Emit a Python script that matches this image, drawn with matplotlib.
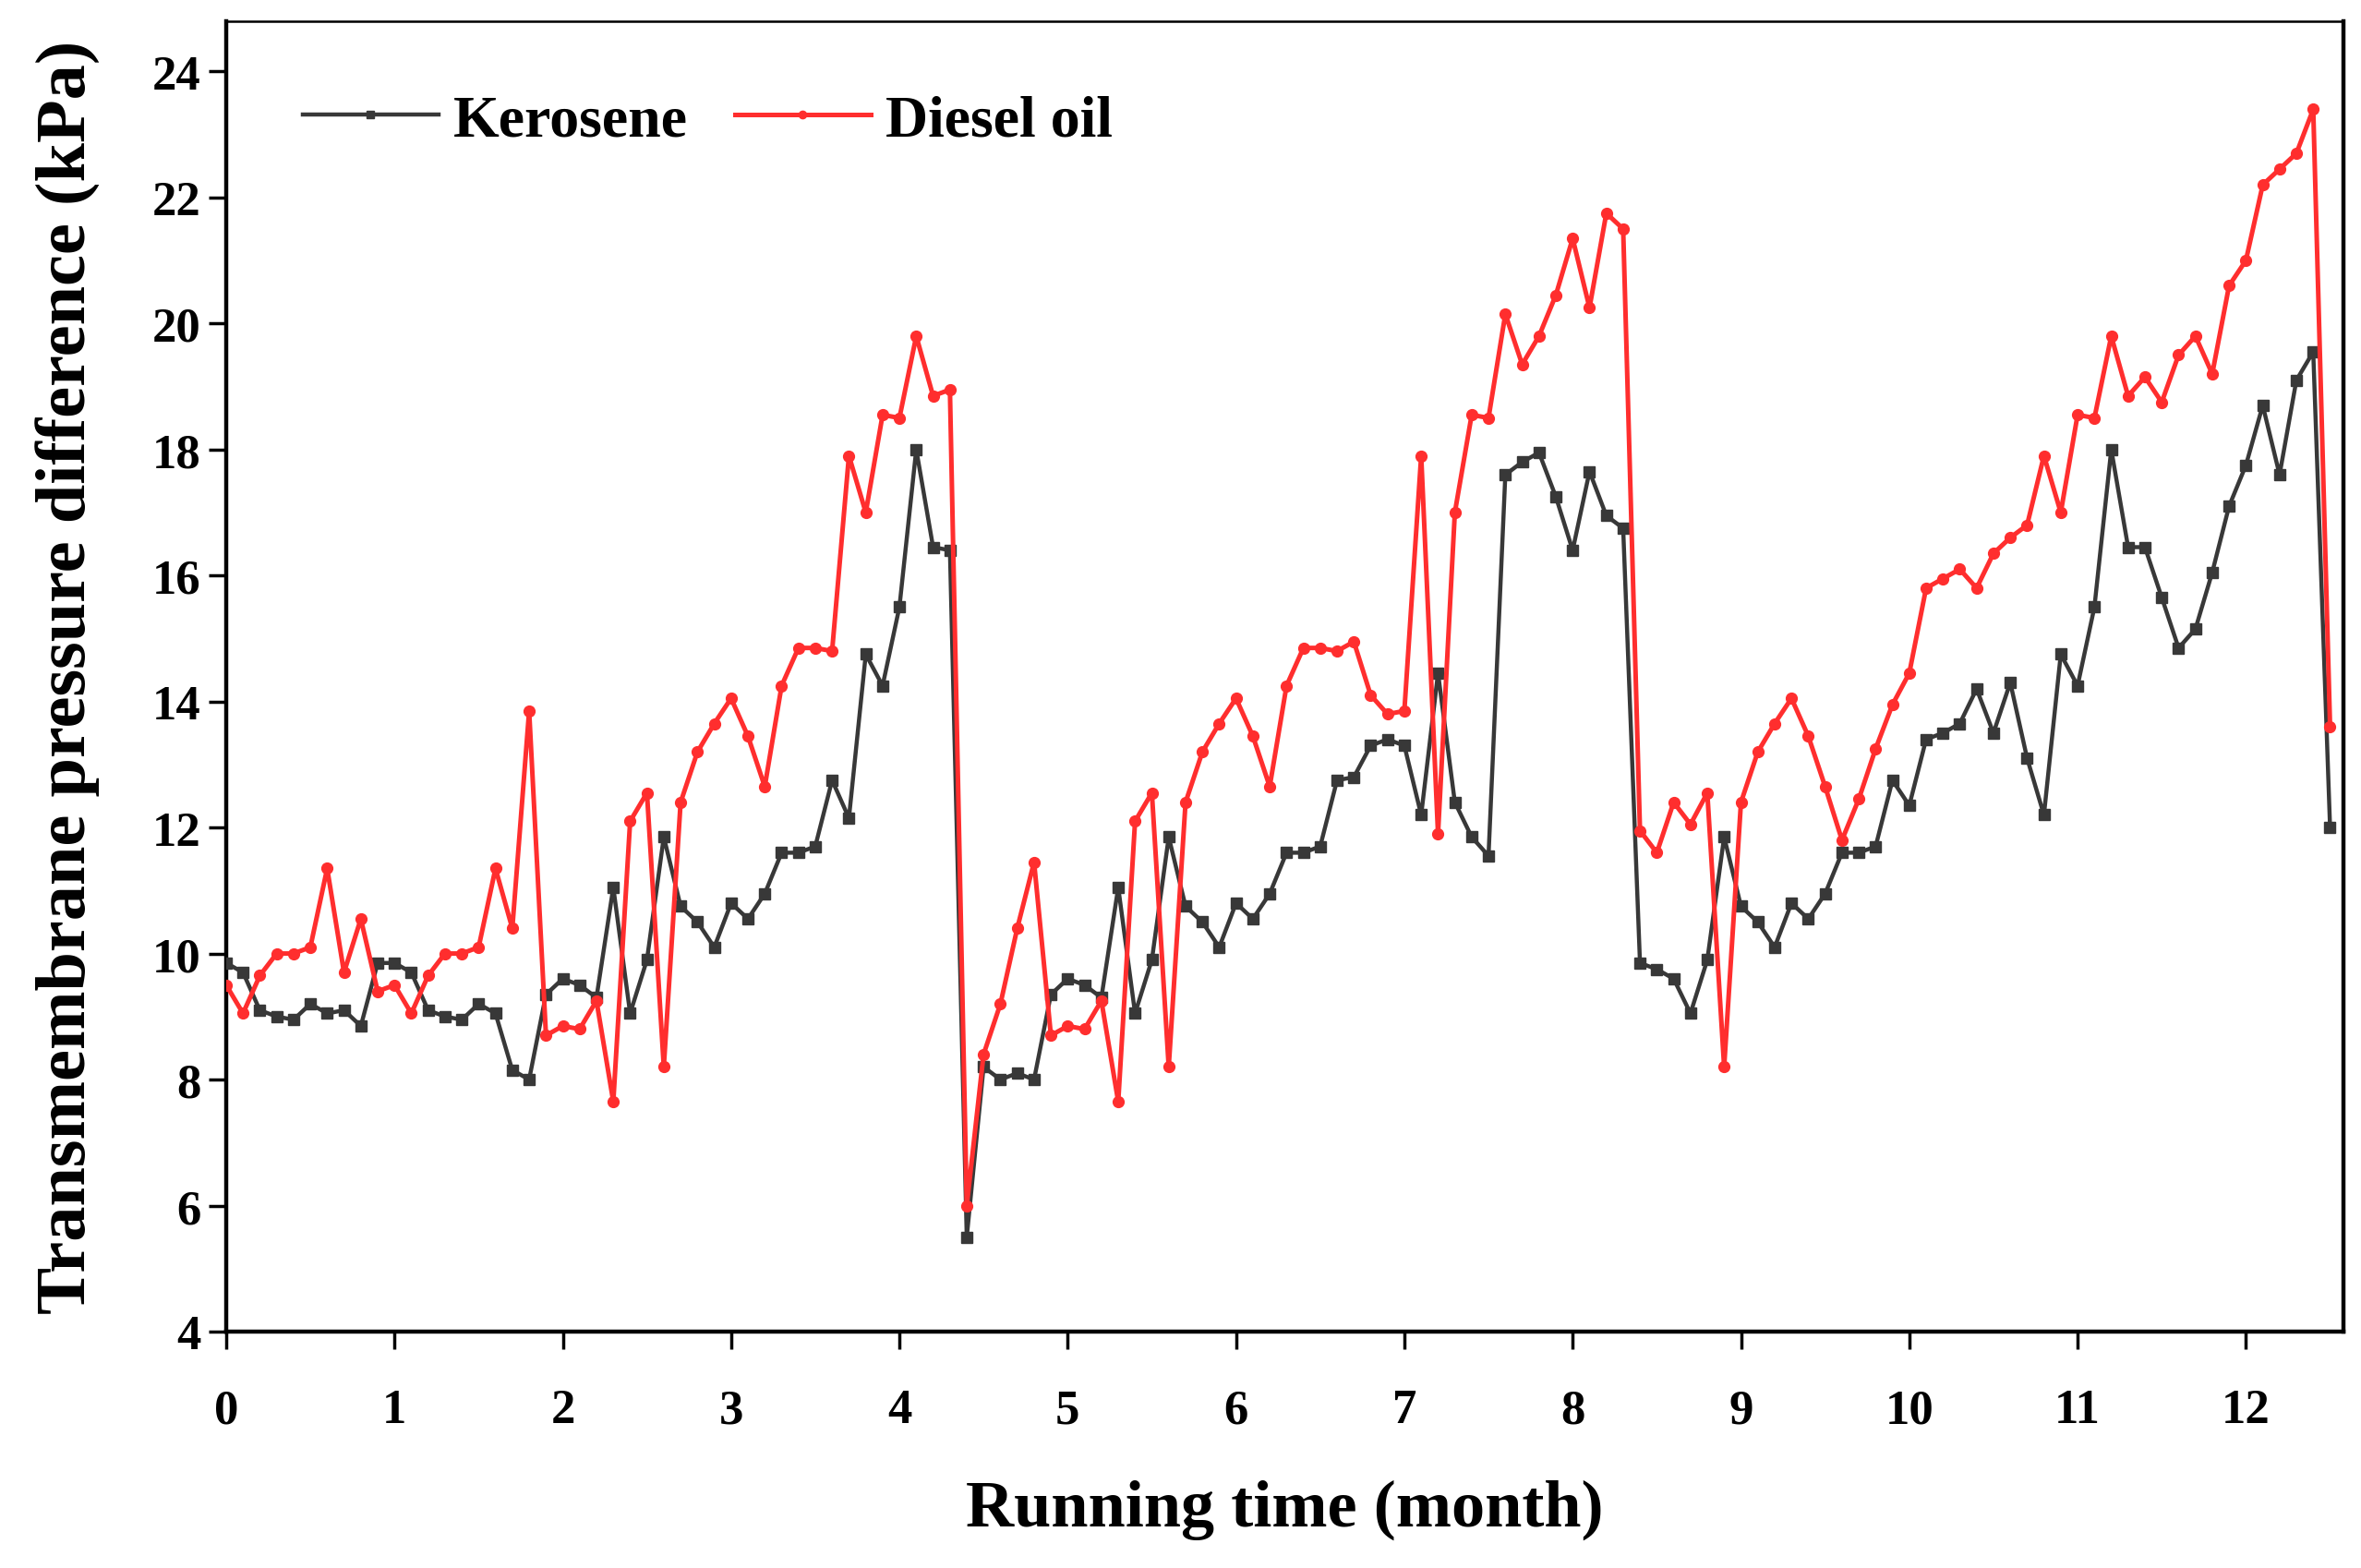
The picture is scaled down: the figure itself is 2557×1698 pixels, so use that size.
import numpy as np
import matplotlib
matplotlib.use("Agg")
import matplotlib.pyplot as plt

# running time, one reading every 0.1 month
months = np.round(np.arange(126) * 0.1, 2)

kerosene = [
    9.85, 9.7, 9.1, 9.0, 8.95, 9.2, 9.05, 9.1, 8.85, 9.85,
    9.85, 9.7, 9.1, 9.0, 8.95, 9.2, 9.05, 8.15, 8.0, 9.35,
    9.6, 9.5, 9.3, 11.05, 9.05, 9.9, 11.85, 10.75, 10.5, 10.1,
    10.8, 10.55, 10.95, 11.6, 11.6, 11.7, 12.75, 12.15, 14.75, 14.25,
    15.5, 18.0, 16.45, 16.4, 5.5, 8.2, 8.0, 8.1, 8.0, 9.35,
    9.6, 9.5, 9.3, 11.05, 9.05, 9.9, 11.85, 10.75, 10.5, 10.1,
    10.8, 10.55, 10.95, 11.6, 11.6, 11.7, 12.75, 12.8, 13.3, 13.4,
    13.3, 12.2, 14.45, 12.4, 11.85, 11.55, 17.6, 17.8, 17.95, 17.25,
    16.4, 17.65, 16.95, 16.75, 9.85, 9.75, 9.6, 9.05, 9.9, 11.85,
    10.75, 10.5, 10.1, 10.8, 10.55, 10.95, 11.6, 11.6, 11.7, 12.75,
    12.35, 13.4, 13.5, 13.65, 14.2, 13.5, 14.3, 13.1, 12.2, 14.75,
    14.25, 15.5, 18.0, 16.45, 16.45, 15.65, 14.85, 15.15, 16.05, 17.1,
    17.75, 18.7, 17.6, 19.1, 19.55, 12.0,
]

diesel = [
    9.5, 9.05, 9.65, 10.0, 10.0, 10.1, 11.35, 9.7, 10.55, 9.4,
    9.5, 9.05, 9.65, 10.0, 10.0, 10.1, 11.35, 10.4, 13.85, 8.7,
    8.85, 8.8, 9.25, 7.65, 12.1, 12.55, 8.2, 12.4, 13.2, 13.65,
    14.05, 13.45, 12.65, 14.25, 14.85, 14.85, 14.8, 17.9, 17.0, 18.55,
    18.5, 19.8, 18.85, 18.95, 6.0, 8.4, 9.2, 10.4, 11.45, 8.7,
    8.85, 8.8, 9.25, 7.65, 12.1, 12.55, 8.2, 12.4, 13.2, 13.65,
    14.05, 13.45, 12.65, 14.25, 14.85, 14.85, 14.8, 14.95, 14.1, 13.8,
    13.85, 17.9, 11.9, 17.0, 18.55, 18.5, 20.15, 19.35, 19.8, 20.45,
    21.35, 20.25, 21.75, 21.5, 11.95, 11.6, 12.4, 12.05, 12.55, 8.2,
    12.4, 13.2, 13.65, 14.05, 13.45, 12.65, 11.8, 12.45, 13.25, 13.95,
    14.45, 15.8, 15.95, 16.1, 15.8, 16.35, 16.6, 16.8, 17.9, 17.0,
    18.55, 18.5, 19.8, 18.85, 19.15, 18.75, 19.5, 19.8, 19.2, 20.6,
    21.0, 22.2, 22.45, 22.7, 23.4, 13.6,
]

x_ticks = list(range(0, 13))
y_ticks = list(range(4, 25, 2))

plt.rcParams['font.family'] = ['Liberation Serif', 'DejaVu Serif']
plt.rcParams['font.weight'] = 'bold'

fig = plt.figure(figsize=(25.57, 16.99), dpi=100)
ax = fig.add_axes([0.0958, 0.1507, 0.8968, 0.8353])

ax.plot(months, kerosene, color='#383838', lw=3.2, marker='s', ms=8.5,
        label='Kerosene', zorder=3)
ax.plot(months, diesel, color='#ff2e2e', lw=3.6, marker='o', ms=8.5,
        label='Diesel oil', zorder=4)

ax.set_xlim(0, 12.58)
ax.set_ylim(4, 24.8)
ax.set_xticks(x_ticks)
ax.set_yticks(y_ticks)

ax.tick_params(axis='both', direction='out', length=14, width=2.5,
               labelsize=38, top=False, right=False)
ax.tick_params(axis='x', pad=30)
ax.tick_params(axis='y', pad=6)
for lab in ax.get_xticklabels() + ax.get_yticklabels():
    lab.set_fontweight('bold')

for side in ['left', 'bottom', 'right']:
    ax.spines[side].set_linewidth(3.2)
ax.spines['top'].set_linewidth(1.8)

ax.set_xlabel('Running time (month)', fontsize=52, fontweight='bold', labelpad=36)
ax.set_ylabel('Transmembrane pressure difference (kPa)', fontsize=55,
              fontweight='bold', labelpad=40)

leg = ax.legend(loc='upper left', bbox_to_anchor=(0.011, 0.985), ncol=2,
                frameon=False, fontsize=46, handlelength=2.3, handletextpad=0.25,
                columnspacing=0.8, numpoints=1, markerscale=0.7)
for t in leg.get_texts():
    t.set_fontweight('bold')

fig.savefig('out.png', dpi=100)
